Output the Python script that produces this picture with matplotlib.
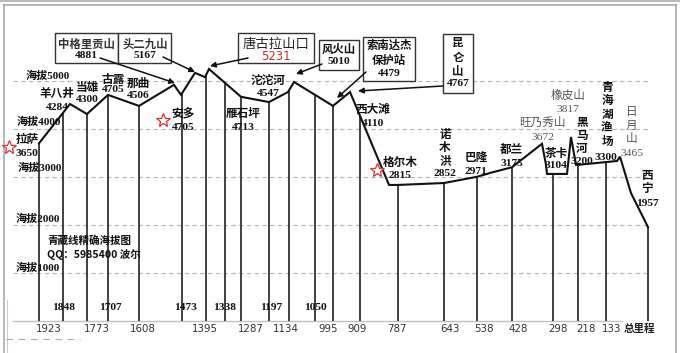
import numpy as np
import matplotlib
matplotlib.use("Agg")
import matplotlib.pyplot as plt
from matplotlib.patches import Rectangle

# ---------------- data ----------------
# drawn elevation profile (layout x position, elevation in metres)
profile_x = [39, 70, 87, 108, 139, 174, 181, 195, 205, 209, 241, 269, 288, 294,
             333, 350, 389, 398, 444, 477, 490, 512, 542, 546, 547, 567, 571,
             576, 578, 617, 620, 631, 648]
profile_elev = [3700, 4520, 4310, 4710, 4480, 4920, 4710, 5170, 5080, 5250, 4670,
                4560, 4770, 4980, 4480, 4770, 2830, 2830, 2870, 3000, 3080, 3200,
                3690, 3250, 3060, 3060, 3830, 3250, 3250, 3330, 3420, 2660, 1950]

# vertical station lines
station_x = [39, 63, 87, 108, 139, 182, 206, 225, 241, 269, 289, 315, 333, 360,
             398, 444, 477, 512, 553, 578, 606, 648]

grid_levels = [1000, 2000, 3000, 4000, 5000]
grid_labels = ["海拔1000", "海拔2000", "海拔3000", "海拔4000", "海拔5000"]

# distance labels (km)
km_lower = ["1923", "1773", "1608", "1395", "1287", "1134", "995", "909", "787",
            "643", "538", "428", "298", "218", "133"]
km_lower_x = [49, 97, 143, 205, 251, 286, 328, 357, 397, 450, 484, 518, 558, 586, 612]
km_upper = ["1848", "1707", "1473", "1338", "1197", "1050"]
km_upper_x = [64, 110, 185, 225, 271, 315]

# station names and elevation labels
st_names = ["拉萨", "羊八井", "当雄", "古露", "那曲", "安多", "雁石坪", "沱沱河",
            "西大滩", "格尔木", "诺木洪", "巴隆", "都兰", "旺乃秀山", "橡皮山",
            "茶卡", "黑马河", "青海湖渔场", "日月山", "西宁"]
st_values = ["3650", "4284", "4300", "4705", "4506", "4705", "4713", "4547",
             "4110", "2815", "2852", "2971", "3175", "3672", "3817", "3104",
             "3200", "3300", "3465", "1957"]
# layout (pixel) positions: name centre, value centre, vertical?, gray?
st_name_xy = [(27, 140), (57, 93), (87, 87), (113, 79), (138, 83), (183, 114),
              (243, 114), (268, 80), (373, 109), (400, 162), (445, 148), (476, 157),
              (512, 149), (542, 122), (568, 95), (556, 153), (582, 135), (607, 114),
              (632, 125), (647, 182)]
st_value_xy = [(27, 153), (57, 108), (87, 100), (113, 89), (138, 96), (183, 128),
               (243, 128), (268, 94), (373, 124), (400, 175), (445, 174), (476, 172),
               (512, 163), (543, 137), (568, 109), (556, 166), (582, 162), (606, 157),
               (632, 153), (647, 203)]
st_vertical = [False] * 10 + [True, False, False, False, False, False, True, True, True, True]
st_gray = [False] * 13 + [True, True, False, False, False, True, False]

# boxed peak annotations
peak_names = ["中格里贡山", "头二九山", "唐古拉山口", "风火山", "索南达杰\n保护站", "昆\n仑\n山"]
peak_values = ["4881", "5167", "5231", "5010", "4479", "4767"]

# ---------------- figure ----------------
W, H = 680, 353
fig = plt.figure(figsize=(W / 100, H / 100), dpi=100)
fig.patch.set_facecolor("white")

Y0, SCALE = 320.5, 0.0479   # pixel row of 0 m, pixels per metre


def elev_at(row):
    return (Y0 - row) / SCALE


ax = fig.add_axes([0, 0, 1, 1])
ax.set_xlim(0, W)
ax.set_ylim(elev_at(H), elev_at(0))
ax.axis("off")

ov = fig.add_axes([0, 0, 1, 1], facecolor="none")
ov.set_xlim(0, W)
ov.set_ylim(H, 0)
ov.axis("off")

CJK_SERIF = ["Liberation Serif", "Noto Sans CJK SC"]
CJK = ["Noto Sans CJK SC", "DejaVu Sans"]

# frame
ov.plot([4, 4], [5, H], color="#aaaaaa", lw=1.2)
ov.plot([7, 7], [300, H], color="#cccccc", lw=0.8)
ov.plot([4, 676], [5, 5], color="#aaaaaa", lw=1.2)
ov.plot([0, W], [1, 1], color="#bbbbbb", lw=1.5)
ov.plot([676, 676], [5, H], color="#aaaaaa", lw=1.2)
ov.plot([6, 80], [339, 339], color="#aaaaaa", lw=0.8, dashes=(6, 5))

# grid
for lv in grid_levels:
    ax.plot([13, 648], [lv, lv], color="#b5b5b5", lw=0.8, dashes=(4, 3), zorder=1)
ax.plot([13, 622], [0, 0], color="#c0c0c0", lw=1.0, zorder=1)

grid_label_xy = [(38, 268), (38, 219), (40, 168), (39, 122), (48, 76)]
for lab, (x, y) in zip(grid_labels, grid_label_xy):
    ov.text(x, y, lab, ha="center", va="center", fontsize=8.0, fontweight="bold",
            family=CJK_SERIF, color="#111111", zorder=5)

# station vertical lines
tops = np.interp(station_x, profile_x, profile_elev)
ax.vlines(station_x, 0, tops, color="#333333", lw=1.3, zorder=3)

# profile
ax.plot(profile_x, profile_elev, color="#111111", lw=1.5, zorder=4,
        solid_joinstyle="miter")

# distance labels
for t, x in zip(km_lower, km_lower_x):
    ov.text(x, 329, t, ha="center", va="center", fontsize=7.4, color="#333333",
            family="DejaVu Sans")
ov.text(639, 329, "总里程", ha="center", va="center", fontsize=7.6,
        fontweight="bold", family=CJK, color="#222222")
for t, x in zip(km_upper, km_upper_x):
    ov.text(x, 307, t, ha="center", va="center", fontsize=8.2, fontweight="bold",
            family=CJK_SERIF, color="#111111", zorder=2)

# station labels
for name, val, nxy, vxy, vert, gray in zip(st_names, st_values, st_name_xy,
                                          st_value_xy, st_vertical, st_gray):
    col = "#555555" if gray else "#111111"
    wt = "normal" if gray else "bold"
    txt = "\n".join(name) if vert else name
    ov.text(nxy[0], nxy[1], txt, ha="center", va="center", fontsize=8.4,
            fontweight=wt, family=CJK, color=col, linespacing=1.05, zorder=6)
    ov.text(vxy[0], vxy[1], val, ha="center", va="center", fontsize=8.2,
            fontweight=wt, family=CJK_SERIF, color=col, zorder=6)

# red stars
for sx, sy in [(9, 147), (163, 120), (377, 170)]:
    ov.plot(sx, sy, marker="*", ms=10, mfc="white", mec="#e03030", mew=0.9, zorder=7)

# boxes
boxes = [(55, 33, 63, 30), (118, 33, 53, 30), (238, 33, 76, 30),
         (319, 40, 40, 30), (363, 37, 52, 44), (443, 34, 30, 59)]
for (bx, by, bw, bh) in boxes:
    ov.add_patch(Rectangle((bx, by), bw, bh, fill=True, facecolor="white",
                           edgecolor="#333333", lw=1.0, zorder=5))

name_xy = [(86, 44), (145, 44), (276, 44), (339, 49), (389, 53), (458, 57)]
val_xy = [(86, 56), (145, 56), (276, 57), (339, 62), (389, 74), (458, 84)]
for i, (nm, v) in enumerate(zip(peak_names, peak_values)):
    if i == 2:
        ov.text(*name_xy[i], nm, ha="center", va="center", fontsize=9.6,
                family=CJK, color="#222222", zorder=6)
        ov.text(*val_xy[i], v, ha="center", va="center", fontsize=8.4,
                family="DejaVu Sans", color="#d02a1a", zorder=6)
    else:
        ov.text(*name_xy[i], nm, ha="center", va="center", fontsize=8.2,
                fontweight="bold", family=CJK, color="#333333" if i < 2 else "#111111",
                linespacing=1.15, zorder=6)
        ov.text(*val_xy[i], v, ha="center", va="center", fontsize=8.2,
                fontweight="bold", family=CJK_SERIF, color="#111111", zorder=6)

# arrows
arrows = [((100, 58), (175, 83)), ((163, 57), (195, 72)), ((248, 58), (210, 66)),
          ((322, 64), (296, 74)), ((366, 72), (337, 98)), ((443, 86), (358, 91))]
for (s, e) in arrows:
    ov.annotate("", xy=e, xytext=s,
                arrowprops=dict(arrowstyle="-|>", color="#111111", lw=1.1,
                                mutation_scale=8, shrinkA=0, shrinkB=0), zorder=6)

# watermark
ov.text(47, 241, "青藏线精确海拔图", ha="left", va="center", fontsize=7.6,
        fontweight="bold", family=CJK, color="#111111", zorder=6)
ov.text(47, 254, "QQ：5985400 波尔", ha="left", va="center", fontsize=7.6,
        fontweight="bold", family=CJK, color="#111111", zorder=6)

fig.savefig("out.png", dpi=100)
